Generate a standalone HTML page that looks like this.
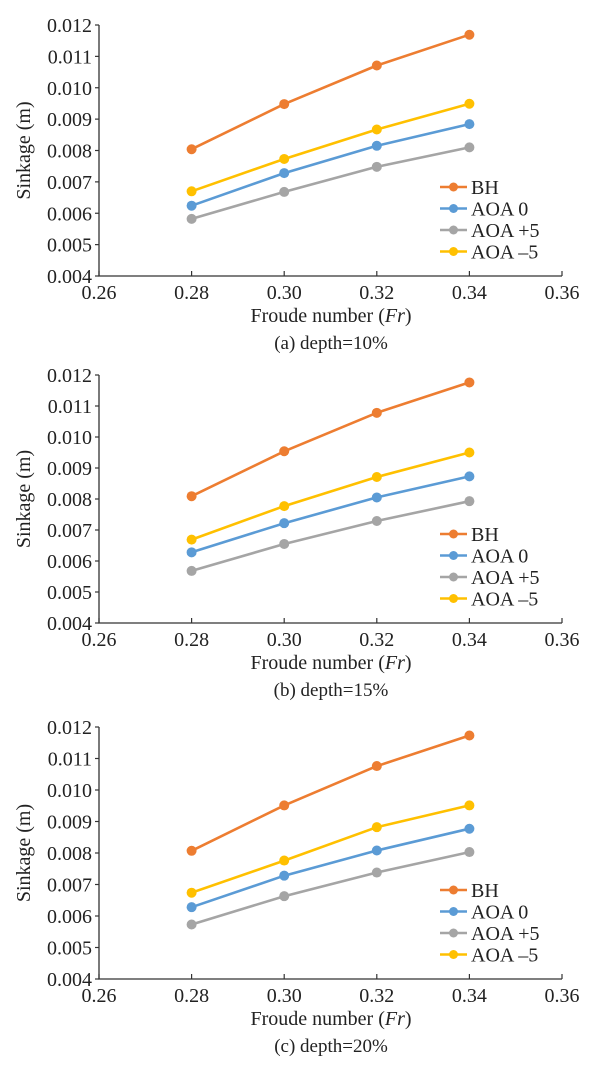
<!DOCTYPE html>
<html><head><meta charset="utf-8"><style>
html,body{margin:0;padding:0;background:#fff;}
svg{display:block;font-family:"Liberation Serif",serif;}
</style></head><body>
<svg id="chart" width="600" height="1070" viewBox="0 0 600 1070" xmlns="http://www.w3.org/2000/svg"></svg>
<script>
const frValues = [0.28, 0.30, 0.32, 0.34];
const xTicks = [0.26, 0.28, 0.30, 0.32, 0.34, 0.36];
const xTickLabels = ["0.26", "0.28", "0.30", "0.32", "0.34", "0.36"];
const yTicks = [0.004, 0.005, 0.006, 0.007, 0.008, 0.009, 0.010, 0.011, 0.012];
const yTickLabels = ["0.004", "0.005", "0.006", "0.007", "0.008", "0.009", "0.010", "0.011", "0.012"];
const seriesNames = ["BH", "AOA 0", "AOA +5", "AOA \u20135"];
const panelCaptions = ["(a) depth=10%", "(b) depth=15%", "(c) depth=20%"];
const bhA = [0.00804, 0.00948, 0.01071, 0.01169];
const aoa0A = [0.00624, 0.00728, 0.00815, 0.00884];
const aoaP5A = [0.00582, 0.00668, 0.00748, 0.00810];
const aoaM5A = [0.00670, 0.00773, 0.00867, 0.00949];
const bhB = [0.00809, 0.00954, 0.01078, 0.01176];
const aoa0B = [0.00628, 0.00722, 0.00805, 0.00873];
const aoaP5B = [0.00568, 0.00655, 0.00729, 0.00793];
const aoaM5B = [0.00669, 0.00777, 0.00871, 0.00950];
const bhC = [0.00807, 0.00951, 0.01076, 0.01173];
const aoa0C = [0.00628, 0.00728, 0.00808, 0.00877];
const aoaP5C = [0.00573, 0.00663, 0.00738, 0.00803];
const aoaM5C = [0.00674, 0.00776, 0.00882, 0.00951];
const panelData = [[bhA, aoa0A, aoaP5A, aoaM5A],[bhB, aoa0B, aoaP5B, aoaM5B],[bhC, aoa0C, aoaP5C, aoaM5C]];

const colors = ["#ED7D31", "#5B9BD5", "#A5A5A5", "#FFC000"];
const panelTops = [25, 375, 727];
const panelBottoms = [276, 623, 979];
const NS = "http://www.w3.org/2000/svg";
const svg = document.getElementById("chart");
function mk(tag, attrs, parent){const e=document.createElementNS(NS,tag);for(const k in attrs)e.setAttribute(k,attrs[k]);(parent||svg).appendChild(e);return e;}
const xL = 99, xR = 562;
const sx = v => xL + (v - 0.26) / 0.10 * (xR - xL);

panelData.forEach((series, p) => {
  const top = panelTops[p], bot = panelBottoms[p];
  const sy = v => bot - (v - 0.004) / 0.008 * (bot - top);
  const g = mk("g", {});
  
  
  // axes
  const ax = mk("path", {d:`M${xL} ${top}V${bot}H${xR}`, fill:"none", stroke:"#333", "stroke-width":1.3}, g);
  
  
  yTicks.forEach((t, i) => {
    const y = sy(t);
    mk("line", {x1:xL-4, x2:xL, y1:y, y2:y, stroke:"#333", "stroke-width":1.2}, g);
    const tx = mk("text", {x:xL-7, y:y+7, "text-anchor":"end", "font-size":20, fill:"#222"}, g);
    tx.textContent = yTickLabels[i];
    
    
  });
  xTicks.forEach((t, i) => {
    const x = sx(t);
    mk("line", {x1:x, x2:x, y1:bot-5, y2:bot, stroke:"#333", "stroke-width":1.2}, g);
    const tx = mk("text", {x:x, y:bot+23, "text-anchor":"middle", "font-size":20, fill:"#222"}, g);
    tx.textContent = xTickLabels[i];
    
    
  });
  const yt = mk("text", {x:0, y:0, transform:`translate(30 ${(top+bot)/2}) rotate(-90)`, "text-anchor":"middle", "font-size":20, fill:"#222"}, g);
  yt.textContent = "Sinkage (m)";
  
  
  const xt = mk("text", {x:331, y:bot+46, "text-anchor":"middle", "font-size":20, fill:"#222"}, g);
  xt.innerHTML = 'Froude number (<tspan font-style="italic">Fr</tspan>)';
  
  
  const cap = mk("text", {x:331, y:bot+73, "text-anchor":"middle", "font-size":19, fill:"#222"}, g);
  cap.textContent = panelCaptions[p];
  
  
  series.forEach((vals, s) => {
    const pts = vals.map((v, i) => [sx(frValues[i]), sy(v)]);
    const line = mk("path", {d:"M"+pts.map(q=>q[0].toFixed(1)+" "+q[1].toFixed(1)).join("L"), fill:"none", stroke:colors[s], "stroke-width":2.6, "stroke-linejoin":"round"}, g);
    
    
    pts.forEach(q => {
      const c = mk("circle", {cx:q[0], cy:q[1], r:5, fill:colors[s]}, g);
      
      
    });
    const ly = bot - 89 + s * 21.5;
    const le = mk("g", {}, g);
    
    
    mk("line", {x1:440, x2:467, y1:ly, y2:ly, stroke:colors[s], "stroke-width":2.6}, le);
    mk("circle", {cx:453.5, cy:ly, r:4.5, fill:colors[s]}, le);
    const lt = mk("text", {x:471, y:ly+7, "font-size":20, fill:"#222"}, le);
    lt.textContent = seriesNames[s];
  });
});
</script>
</body></html>
